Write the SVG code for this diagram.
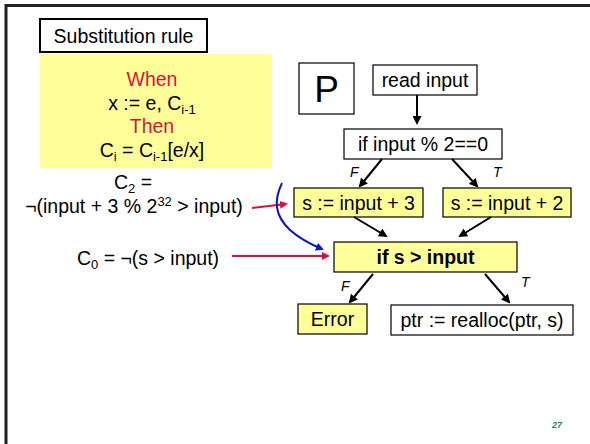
<svg xmlns="http://www.w3.org/2000/svg" width="590" height="444" viewBox="0 0 590 444">
<defs>
<style>
text{font-family:"Liberation Sans",Arial,sans-serif;fill:#000}
.box{fill:#fff;stroke:#000;stroke-width:1.2}
.yb{fill:#ffff99;stroke:#000;stroke-width:1.2}
.t16{font-size:19.5px}
.sub{font-size:13px}
.lab{font-size:14px;font-style:italic}
.red{fill:#e0103a}
.arr{stroke:#000;stroke-width:2;fill:none;marker-end:url(#ah)}
.rarr{stroke:#d6103c;stroke-width:2;fill:none;marker-end:url(#rh)}
</style>
<marker id="ah" markerWidth="9" markerHeight="9" refX="7" refY="4.5" orient="auto" markerUnits="userSpaceOnUse" viewBox="0 0 9 9"><path d="M0,0 L9,4.5 L0,9 z" fill="#000"/></marker>
<marker id="rh" markerWidth="8" markerHeight="8" refX="6" refY="4" orient="auto" markerUnits="userSpaceOnUse" viewBox="0 0 8 8"><path d="M0,0 L8,4 L0,8 z" fill="#d6103c"/></marker>
<marker id="bh" markerWidth="8" markerHeight="8" refX="6" refY="4" orient="auto" markerUnits="userSpaceOnUse" viewBox="0 0 8 8"><path d="M0,0 L8,4 L0,8 z" fill="#1010d0"/></marker>
</defs>
<rect width="590" height="444" fill="#fff"/>
<g id="frame">
<path d="M6,444 V5.5 H590" fill="none" stroke="#222" stroke-width="3"/>
</g>
<g id="title">
<rect x="40" y="19" width="167" height="33" fill="#fff" stroke="#000" stroke-width="2"/>
<text x="123.5" y="43" text-anchor="middle" font-size="19.5">Substitution rule</text>
</g>
<g id="rule">
<rect x="40" y="54" width="232" height="114" fill="#ffff99"/>
<text x="152" y="86" text-anchor="middle" class="t16 red">When</text>
<text x="152" y="110" text-anchor="middle" class="t16">x := e, C<tspan class="sub" dy="4">i-1</tspan></text>
<text x="152" y="133" text-anchor="middle" class="t16 red">Then</text>
<text x="152" y="157" text-anchor="middle" class="t16">C<tspan class="sub" dy="4">i</tspan><tspan dy="-4"> = C</tspan><tspan class="sub" dy="4">i-1</tspan><tspan dy="-4">[e/x]</tspan></text>
</g>
<g id="c2">
<text x="133" y="189" text-anchor="middle" class="t16">C<tspan class="sub" dy="4">2</tspan><tspan dy="-4"> =</tspan></text>
<text x="134" y="213" text-anchor="middle" class="t16">¬(input + 3 % 2<tspan class="sub" dy="-7">32</tspan><tspan dy="7"> &gt; input)</tspan></text>
</g>
<g id="c0">
<text x="148" y="265" text-anchor="middle" class="t16">C<tspan class="sub" dy="4">0</tspan><tspan dy="-4"> = ¬(s &gt; input)</tspan></text>
</g>
<g id="P">
<rect x="299" y="63" width="55" height="51" class="box"/>
<text x="326.5" y="102" text-anchor="middle" font-size="37">P</text>
</g>
<g id="read">
<rect x="373" y="65" width="104" height="30" class="box"/>
<text x="425" y="87" text-anchor="middle" class="t16">read input</text>
</g>
<g id="if1">
<rect x="344" y="129" width="158" height="30" class="box"/>
<text x="423" y="151" text-anchor="middle" class="t16">if input % 2==0</text>
</g>
<g id="s3">
<rect x="294" y="188" width="129" height="29" class="yb"/>
<text x="358.5" y="209.5" text-anchor="middle" class="t16">s := input + 3</text>
</g>
<g id="s2">
<rect x="443" y="188" width="128" height="29" class="yb"/>
<text x="507" y="209.5" text-anchor="middle" class="t16">s := input + 2</text>
</g>
<g id="if2">
<rect x="334" y="242" width="183" height="30" class="yb"/>
<text x="425.5" y="264" text-anchor="middle" class="t16" font-weight="bold">if s &gt; input</text>
</g>
<g id="error">
<rect x="298" y="304" width="69" height="30" class="yb"/>
<text x="332.5" y="326" text-anchor="middle" class="t16">Error</text>
</g>
<g id="ptr">
<rect x="391" y="305" width="182" height="30" class="box"/>
<text x="482" y="327" text-anchor="middle" class="t16">ptr := realloc(ptr, s)</text>
</g>
<g id="connectors">
<line x1="417" y1="95" x2="417" y2="123" class="arr"/>
<line x1="382" y1="159" x2="360" y2="186" class="arr"/>
<line x1="452" y1="159" x2="477" y2="186" class="arr"/>
<line x1="354" y1="217" x2="386" y2="236" class="arr"/>
<line x1="491" y1="217" x2="460" y2="236" class="arr"/>
<line x1="373" y1="274" x2="350" y2="302" class="arr"/>
<line x1="485" y1="274" x2="509" y2="302" class="arr"/>
<line x1="252" y1="208" x2="286" y2="204" class="rarr"/>
<line x1="232" y1="256" x2="328" y2="256" class="rarr"/>
<path d="M282,183 C274,200 274,215 290,230 C300,239 310,244 322,249" stroke="#1010d0" stroke-width="2" fill="none" marker-end="url(#bh)"/>
<text x="350" y="177" class="lab">F</text>
<text x="493" y="177" class="lab">T</text>
<text x="341" y="291" class="lab">F</text>
<text x="521" y="287" class="lab">T</text>
</g>
<g id="pagenum">
<text x="557" y="428" text-anchor="middle" font-size="9" font-weight="bold" font-style="italic" style="fill:#2e7d6e">27</text>
</g>
</svg>
